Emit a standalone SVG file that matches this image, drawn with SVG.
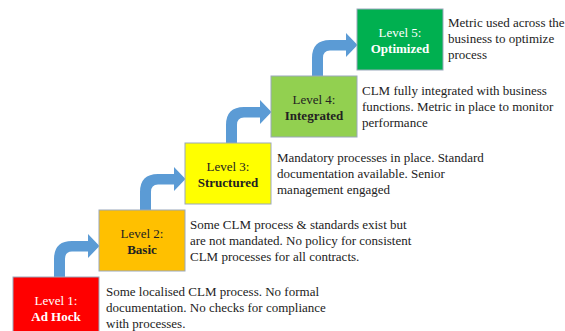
<svg xmlns="http://www.w3.org/2000/svg" width="565" height="331" viewBox="0 0 565 331">
<style>
.box{stroke:#9aa8bb;stroke-width:1}
.lbl{font-family:"Liberation Serif","Times New Roman",serif;font-size:13px;text-anchor:middle}
.b{font-weight:bold}
.desc{font-family:"Liberation Serif","Times New Roman",serif;font-size:13px;fill:#222}
.dark{fill:#222}
.light{fill:#fff}
.arr{fill:#5b9bd5}
</style>
<defs>
<path id="bend" class="arr" d="M54 277 L54 259 Q54 241 72 241 L88 241 L88 234 L99.5 246 L88 258 L88 251.5 L72 251.5 Q65 251.5 65 259 L65 277 Z"/>
</defs>
<rect width="565" height="331" fill="#fff"/>
<g id="connectors">
<use href="#bend"/>
<use href="#bend" transform="translate(86,-67)"/>
<use href="#bend" transform="translate(172,-134)"/>
<use href="#bend" transform="translate(258,-201)"/>
</g>
<g id="level1">
<rect class="box" x="13" y="277" width="86" height="61" fill="#ff0000"/>
<text class="lbl light" x="56" y="304.5">Level 1:</text>
<text class="lbl light b" x="56" y="320.5">Ad Hock</text>
<text class="desc" x="106" y="295.5">Some localised CLM process. No formal</text>
<text class="desc" x="106" y="311.5">documentation. No checks for compliance</text>
<text class="desc" x="106" y="327.5">with processes.</text>
</g>
<g id="level2">
<rect class="box" x="99" y="210" width="86" height="61" fill="#ffc000"/>
<text class="lbl dark" x="142" y="237.5">Level 2:</text>
<text class="lbl dark b" x="142" y="253.5">Basic</text>
<text class="desc" x="190" y="228.5">Some CLM process &amp; standards exist but</text>
<text class="desc" x="190" y="244.5">are not mandated. No policy for consistent</text>
<text class="desc" x="190" y="260.5">CLM processes for all contracts.</text>
</g>
<g id="level3">
<rect class="box" x="185" y="143" width="86" height="61" fill="#ffff00"/>
<text class="lbl dark" x="228" y="170.5">Level 3:</text>
<text class="lbl dark b" x="228" y="186.5">Structured</text>
<text class="desc" x="277" y="161.5">Mandatory processes in place. Standard</text>
<text class="desc" x="277" y="177.5">documentation available. Senior</text>
<text class="desc" x="277" y="193.5">management engaged</text>
</g>
<g id="level4">
<rect class="box" x="271" y="76" width="86" height="61" fill="#92d050"/>
<text class="lbl dark" x="314" y="103.5">Level 4:</text>
<text class="lbl dark b" x="314" y="119.5">Integrated</text>
<text class="desc" x="362" y="94.5">CLM fully integrated with business</text>
<text class="desc" x="362" y="110.5">functions. Metric in place to monitor</text>
<text class="desc" x="362" y="126.5">performance</text>
</g>
<g id="level5">
<rect class="box" x="357" y="9" width="86" height="61" fill="#00b050"/>
<text class="lbl light" x="400" y="36.5">Level 5:</text>
<text class="lbl light b" x="400" y="52.5">Optimized</text>
<text class="desc" x="448" y="26.5">Metric used across the</text>
<text class="desc" x="448" y="42.5">business to optimize</text>
<text class="desc" x="448" y="58.5">process</text>
</g>
</svg>
